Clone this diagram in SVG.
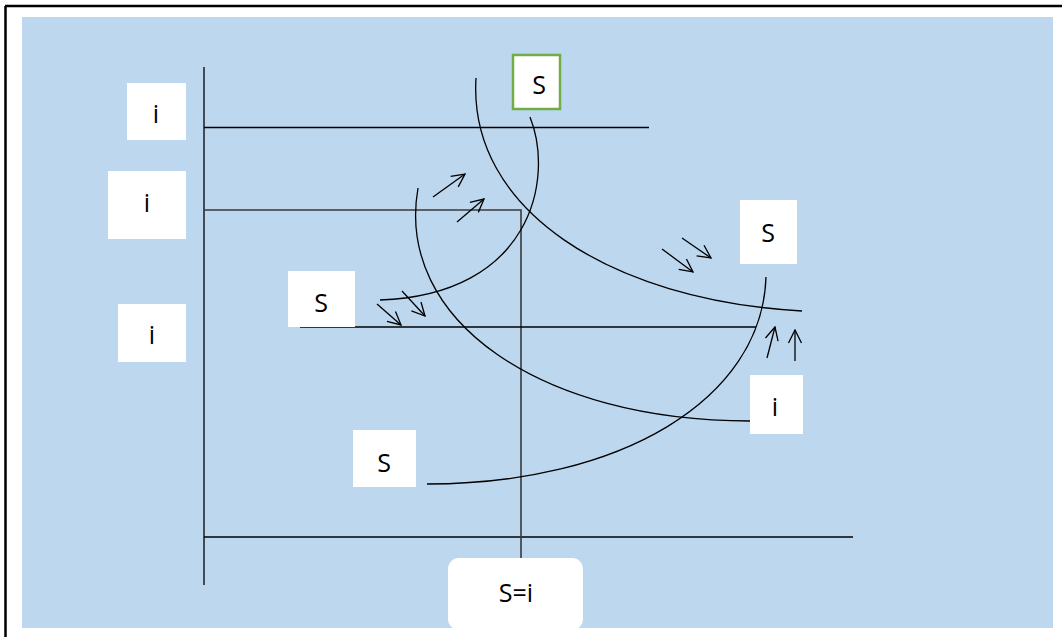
<svg xmlns="http://www.w3.org/2000/svg" width="1062" height="637" viewBox="0 0 1062 637">
<defs>
<style>
.box{fill:#ffffff;}
.lbl{font-family:"Open Sans","Liberation Sans",sans-serif;font-size:25px;fill:#000;text-anchor:middle;dominant-baseline:central;}
.ln{stroke:#000;stroke-width:1.3;fill:none;}
.dk{stroke:#3a3a3a;stroke-width:1.6;fill:none;}
.ar{stroke:#000;stroke-width:1.3;fill:none;marker-end:url(#v);}
</style>
<marker id="v" viewBox="0 0 16 16" refX="15" refY="8" markerWidth="16" markerHeight="16" markerUnits="userSpaceOnUse" orient="auto">
<path d="M2,1.5 L15,8 L2,14.5" fill="none" stroke="#000" stroke-width="1.3"/>
</marker>
</defs>
<rect x="0" y="0" width="1062" height="637" fill="#ffffff"/>
<line x1="5" y1="6" x2="1062" y2="6" stroke="#000" stroke-width="2.5"/>
<line x1="5.5" y1="6" x2="5.5" y2="637" stroke="#000" stroke-width="2.5"/>
<rect x="22" y="17" width="1031" height="611" fill="#BDD7EE"/>
<g id="connectors">
<line class="ln" x1="204" y1="67" x2="204" y2="585"/>
<line class="ln" x1="204" y1="537" x2="853" y2="537"/>
<line class="ln" x1="204" y1="127.5" x2="649" y2="127.5"/>
<polyline class="dk" points="204,210 521,210 521,558"/>
<line class="ln" x1="300" y1="327" x2="756" y2="327"/>
<path class="ln" d="M530,117 C555,180 530,295 380,300"/>
<path class="ln" d="M476,78 C468,210 610,300 802,311"/>
<path class="ln" d="M418,188 C395,320 540,421 750,421"/>
<path class="ln" d="M766,277 C762,400 620,484 427,484"/>
<line class="ar" x1="433" y1="197" x2="465" y2="174"/>
<line class="ar" x1="457" y1="222" x2="484" y2="199"/>
<line class="ar" x1="377" y1="304" x2="401" y2="325"/>
<line class="ar" x1="402" y1="291" x2="425" y2="316"/>
<line class="ar" x1="662" y1="249" x2="693" y2="272"/>
<line class="ar" x1="682" y1="238" x2="711" y2="258"/>
<line class="ar" x1="767" y1="358" x2="775" y2="327"/>
<line class="ar" x1="795" y1="361" x2="795" y2="330"/>
</g>
<g id="i1"><rect class="box" x="127" y="83" width="59" height="57"/><text class="lbl" x="156" y="113">i</text></g>
<g id="i2"><rect class="box" x="108" y="171" width="78" height="68"/><text class="lbl" x="147" y="202">i</text></g>
<g id="i3"><rect class="box" x="118" y="304" width="68" height="58"/><text class="lbl" x="152" y="334">i</text></g>
<g id="s-left"><rect class="box" x="288" y="271" width="67" height="56"/><text class="lbl" x="321" y="302">S</text></g>
<g id="s-top"><rect class="box" x="513" y="55" width="47" height="54" stroke="#70AD47" stroke-width="2.5"/><text class="lbl" x="539" y="84">S</text></g>
<g id="s-right"><rect class="box" x="740" y="200" width="57" height="64"/><text class="lbl" x="768" y="232">S</text></g>
<g id="i-right"><rect class="box" x="750" y="375" width="53" height="59"/><text class="lbl" x="775" y="406">i</text></g>
<g id="s-bottom"><rect class="box" x="353" y="430" width="63" height="57"/><text class="lbl" x="384" y="462">S</text></g>
<g id="s-eq-i"><rect class="box" x="448" y="558" width="135" height="72" rx="11"/><text class="lbl" x="516" y="592">S=i</text></g>
</svg>
